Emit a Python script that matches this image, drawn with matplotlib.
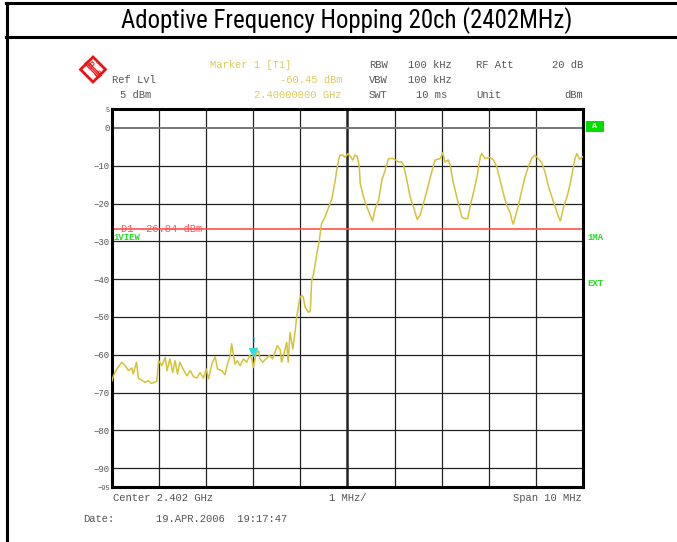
import matplotlib
matplotlib.use("Agg")
import matplotlib.pyplot as plt
import matplotlib.transforms as mtransforms
from matplotlib import font_manager
from matplotlib.lines import Line2D
from matplotlib.patches import Polygon

# spectrum trace
freq_mhz = [
    2397.00, 2397.03, 2397.10, 2397.21, 2397.28, 2397.35, 2397.42, 2397.45, 2397.52, 2397.56,
    2397.63, 2397.70, 2397.77, 2397.84, 2397.95, 2397.99, 2398.06, 2398.13, 2398.17, 2398.23,
    2398.29, 2398.34, 2398.39, 2398.44, 2398.51, 2398.59, 2398.66, 2398.73, 2398.80, 2398.87,
    2398.94, 2399.00, 2399.05, 2399.12, 2399.19, 2399.24, 2399.33, 2399.40, 2399.45, 2399.51,
    2399.54, 2399.58, 2399.61, 2399.66, 2399.72, 2399.79, 2399.86, 2399.92, 2399.97, 2400.00,
    2400.06, 2400.11, 2400.14, 2400.20, 2400.27, 2400.34, 2400.41, 2400.46, 2400.51, 2400.57,
    2400.60, 2400.65, 2400.71, 2400.74, 2400.78, 2400.84, 2400.89, 2400.92, 2400.99, 2401.03,
    2401.06, 2401.10, 2401.17, 2401.21, 2401.24, 2401.28, 2401.35, 2401.40, 2401.45, 2401.52,
    2401.59, 2401.67, 2401.74, 2401.77, 2401.81, 2401.84, 2401.90, 2401.95, 2402.01, 2402.06,
    2402.11, 2402.16, 2402.21, 2402.25, 2402.27, 2402.34, 2402.41, 2402.48, 2402.53, 2402.59,
    2402.66, 2402.73, 2402.80, 2402.87, 2402.97, 2403.08, 2403.15, 2403.19, 2403.26, 2403.33,
    2403.40, 2403.48, 2403.54, 2403.65, 2403.75, 2403.86, 2403.97, 2404.02, 2404.07, 2404.14,
    2404.18, 2404.25, 2404.32, 2404.39, 2404.43, 2404.50, 2404.55, 2404.60, 2404.67, 2404.75,
    2404.82, 2404.85, 2404.92, 2405.03, 2405.10, 2405.17, 2405.24, 2405.31, 2405.38, 2405.45,
    2405.49, 2405.52, 2405.58, 2405.63, 2405.70, 2405.77, 2405.84, 2405.91, 2405.98, 2406.05,
    2406.13, 2406.20, 2406.27, 2406.34, 2406.41, 2406.48, 2406.52, 2406.59, 2406.67, 2406.73,
    2406.79, 2406.83, 2406.87, 2406.93, 2407.00,
]
level_dbm = [
    -66.9, -65.6, -63.8, -62.0, -62.9, -64.2, -63.5, -65.1, -62.0, -66.2,
    -66.7, -67.3, -66.9, -67.6, -67.0, -61.6, -62.9, -60.7, -64.2, -61.1,
    -64.7, -61.6, -65.1, -62.0, -63.8, -65.6, -64.2, -65.8, -66.2, -64.7,
    -66.2, -63.8, -66.4, -62.5, -60.5, -63.8, -64.2, -65.3, -62.5, -60.2,
    -57.1, -60.2, -62.5, -61.6, -62.9, -61.1, -62.0, -60.2, -61.1, -63.4,
    -59.8, -58.9, -61.1, -62.0, -61.1, -60.2, -61.1, -59.4, -57.6, -58.7,
    -62.0, -59.8, -56.7, -62.0, -54.1, -58.5, -53.6, -50.1, -44.8, -44.3,
    -44.8, -47.4, -48.8, -48.5, -40.4, -38.6, -33.3, -29.8, -25.3, -23.6,
    -21.3, -18.7, -13.8, -11.2, -8.5, -7.2, -7.2, -7.8, -6.8, -7.5,
    -8.5, -7.2, -7.6, -10.3, -14.7, -18.3, -20.9, -23.1, -24.6, -21.3,
    -19.1, -13.8, -11.2, -8.1, -8.1, -9.0, -9.0, -9.9, -13.8, -18.3,
    -20.9, -24.2, -23.1, -18.3, -13.4, -8.5, -8.1, -6.6, -9.0, -8.5,
    -9.9, -14.7, -18.3, -21.8, -23.7, -24.0, -24.0, -20.9, -17.4, -12.9,
    -7.6, -6.8, -8.1, -7.8, -8.5, -10.3, -13.8, -17.4, -20.5, -22.3,
    -24.4, -25.5, -22.7, -20.5, -16.5, -12.9, -10.3, -8.1, -7.2, -8.1,
    -9.4, -12.0, -15.6, -18.3, -20.9, -23.6, -24.6, -20.9, -17.8, -14.7,
    -10.7, -8.1, -6.8, -8.3, -7.6,
]

ytick_vals = [5, 0, -10, -20, -30, -40, -50, -60, -70, -80, -90, -95]
display_line = -26.84
marker_freq = 2400.0
marker_level = -60.45

header_rows = [
    ["RBW", "100 kHz", "RF Att", "20 dB"],
    ["VBW", "100 kHz", "", ""],
    ["SWT", "10 ms", "Unit", "dBm"],
]

W, H = 677, 542
MONO = "Liberation Mono"
GREY = "#555555"
YEL = "#dccb5e"
GREEN = "#22dd22"


def fx(x):
    return x / W


def fy(y):
    return 1 - y / H


# pick a condensed face for the title if one is around
installed = {f.name for f in font_manager.fontManager.ttflist}
title_font, title_size = "Liberation Sans", 15
for name, size in [("Liberation Sans Narrow", 18.8), ("Roboto Condensed", 17.9),
                   ("DejaVu Sans Condensed", 15.7)]:
    if name in installed:
        title_font, title_size = name, size
        break

fig = plt.figure(figsize=(W / 100, H / 100), dpi=100)

# outer frame lines
fig.add_artist(Line2D([fx(6), 1], [fy(3), fy(3)], color="black", lw=2.2))
fig.add_artist(Line2D([fx(6), 1], [fy(37), fy(37)], color="black", lw=2.2))
fig.add_artist(Line2D([fx(7), fx(7)], [fy(3), 0], color="black", lw=2.2))

fig.text(fx(347), fy(21), "Adoptive Frequency Hopping 20ch (2402MHz)",
         family=[title_font, "DejaVu Sans"], fontsize=title_size,
         ha="center", va="center")

ax = fig.add_axes([fx(112), fy(487), fx(583) - fx(112), fy(109) - fy(487)])
ax.set_xlim(2397, 2407)
ax.set_ylim(-95, 5)

for f in range(2398, 2407):
    ax.axvline(f, color="#222222", lw=1.8 if f == 2402 else 0.9, zorder=1)
for v in ytick_vals[1:-1]:
    ax.axhline(v, color="#777777" if v == 0 else "#222222",
               lw=1.4 if v == 0 else 0.9, zorder=1)

ax.set_xticks([])
ax.set_yticks(ytick_vals)
ax.set_yticklabels([str(v).replace("-", "\u2212") for v in ytick_vals],
                   family=MONO, fontsize=6.5, color=GREY)
for lab in (ax.get_yticklabels()[0], ax.get_yticklabels()[-1]):
    lab.set_fontsize(5)
ax.tick_params(axis="y", length=0, pad=1.5)
for sp in ax.spines.values():
    sp.set_linewidth(2.2)
    sp.set_color("black")

ax.plot(freq_mhz, level_dbm, color="#d4c23a", lw=1.1, zorder=3)
ax.axhline(display_line, color="#ff5050", lw=1.2, zorder=2)

tr = mtransforms.offset_copy(ax.transData, fig=fig, y=3.5, units="points")
ax.plot([marker_freq], [marker_level], marker="v", color="#33dddd",
        markersize=6, transform=tr, zorder=4)
tr2 = mtransforms.offset_copy(ax.transData, fig=fig, y=9, units="points")
ax.text(marker_freq, marker_level, "1", transform=tr2, color="#33dddd",
        fontsize=5, family=MONO, ha="center", va="bottom")

# display line label and side annotations
fig.text(fx(121), fy(229), "D1 -26.84 dBm", family=MONO, fontsize=7.5,
         color="#ff5050", va="center")
fig.text(fx(113), fy(237), "1VIEW", family=MONO, fontsize=6.5,
         color=GREEN, va="center", weight="bold")
fig.text(fx(595), fy(126.5), "A", family=MONO, fontsize=6, color="white",
         weight="bold", ha="center", va="center",
         bbox=dict(boxstyle="square,pad=0.1", fc="#00e000", ec="none"))
fig.patches.append(Polygon([(fx(586), fy(121)), (fx(604), fy(121)),
                            (fx(604), fy(132)), (fx(586), fy(132))],
                           closed=True, fc="#00e000", ec="none",
                           transform=fig.transFigure, zorder=0.5))
fig.text(fx(587), fy(237), "1MA", family=MONO, fontsize=6.5, color=GREEN,
         va="center", weight="bold")
fig.text(fx(587), fy(284), "EXT", family=MONO, fontsize=6.5, color=GREEN,
         va="center", weight="bold")

# header block
hs = 7.6
fig.text(fx(210), fy(65), "Marker 1 [T1]", family=MONO, fontsize=hs,
         color=YEL, va="center")
fig.text(fx(112), fy(80.5), "Ref Lvl", family=MONO, fontsize=hs,
         color=GREY, va="center")
fig.text(fx(342), fy(80.5), "-60.45 dBm", family=MONO, fontsize=hs,
         color=YEL, va="center", ha="right")
fig.text(fx(120), fy(95.5), "5 dBm", family=MONO, fontsize=hs,
         color=GREY, va="center")
fig.text(fx(342), fy(95.5), "2.40000000 GHz", family=MONO, fontsize=hs,
         color=YEL, va="center", ha="right")
col_x = [369, 408, 476, 583]
for row, yy in zip(header_rows, [65, 80.5, 95.5]):
    for i, (txt, xx) in enumerate(zip(row, col_x)):
        if not txt:
            continue
        if i == 1 and txt == "10 ms":
            xx = 416
        fig.text(fx(xx), fy(yy), txt, family=MONO, fontsize=hs, color=GREY,
                 va="center", ha="right" if i == 3 else "left")

# footer
fig.text(fx(113), fy(498), "Center 2.402 GHz", family=MONO, fontsize=hs,
         color=GREY, va="center")
fig.text(fx(329), fy(498), "1 MHz/", family=MONO, fontsize=hs,
         color=GREY, va="center")
fig.text(fx(582), fy(498), "Span 10 MHz", family=MONO, fontsize=hs,
         color=GREY, va="center", ha="right")
fig.text(fx(83), fy(519), "Date:", family=MONO, fontsize=hs,
         color=GREY, va="center")
fig.text(fx(156), fy(519), "19.APR.2006  19:17:47", family=MONO, fontsize=hs,
         color=GREY, va="center")

# R&S logo
cx, cy, r = 93, 69.5, 12.5
diamond = [(fx(cx), fy(cy - r)), (fx(cx + r), fy(cy)),
           (fx(cx), fy(cy + r)), (fx(cx - r), fy(cy))]
fig.add_artist(Polygon(diamond, closed=True, fc="white", ec="#ee1111",
                       lw=2.0, transform=fig.transFigure))
for d in (-1.2, 0, 1.2):
    fig.add_artist(Line2D([fx(cx - 7 + d), fx(cx + 7 + d)],
                          [fy(cy - 7 - d), fy(cy + 7 - d)],
                          color="#ee1111", lw=0.9))
fig.text(fx(cx - 3.5), fy(cy - 4), "R", color="#ee1111", fontsize=6.5,
         ha="center", va="center", rotation=-45)
fig.text(fx(cx + 3.5), fy(cy + 4.5), "S", color="#ee1111", fontsize=6.5,
         ha="center", va="center", rotation=-45)

fig.savefig("out.png", dpi=100)
